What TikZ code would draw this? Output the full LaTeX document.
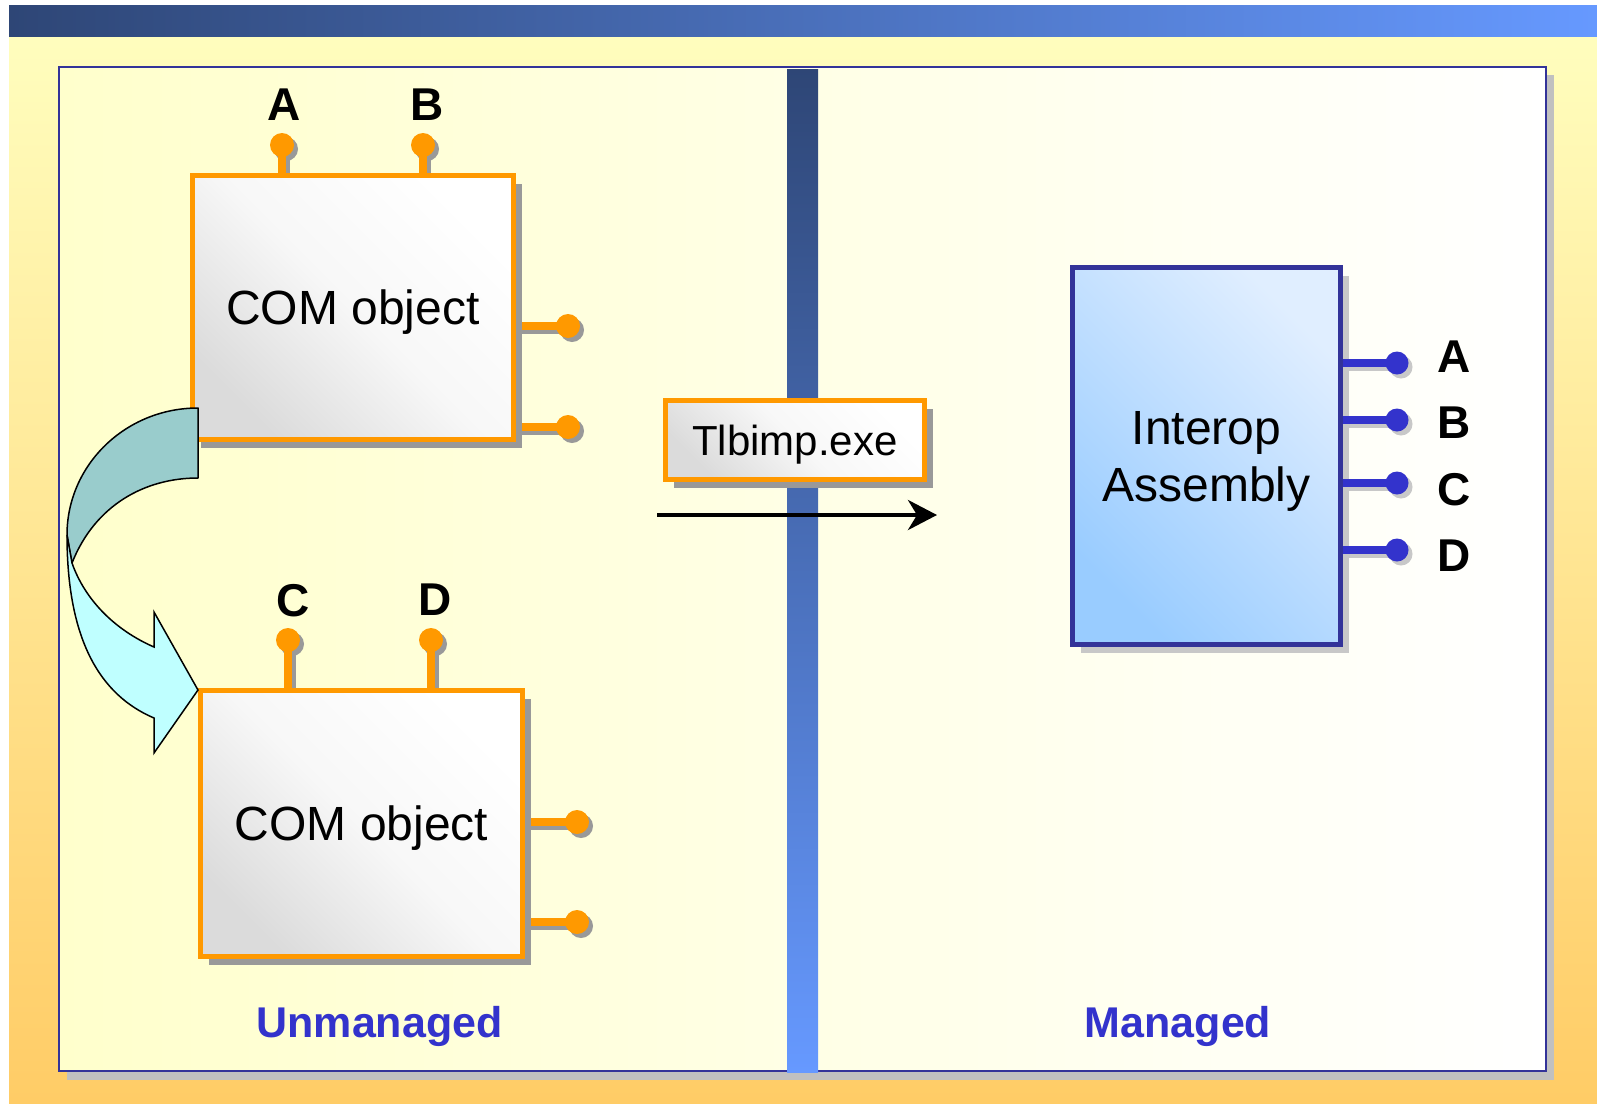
\documentclass[tikz,border=0pt]{standalone}
\usepackage{fontspec}
\setmainfont{Liberation Sans}
\usetikzlibrary{arrows.meta,shadows}
\definecolor{bgtop}{HTML}{FFFFC0}
\definecolor{bgbot}{HTML}{FFCC66}
\definecolor{headL}{HTML}{2E4676}
\definecolor{headR}{HTML}{6699FF}
\definecolor{panelB}{HTML}{333399}
\definecolor{panelL}{HTML}{FFFFCC}
\definecolor{panelsh}{HTML}{C0C0C0}
\definecolor{orangeC}{HTML}{FF9900}
\definecolor{shgray}{HTML}{999999}
\definecolor{lightsh}{HTML}{C8C8C8}
\definecolor{bluepin}{HTML}{3333CC}
\definecolor{boxB}{HTML}{333399}
\definecolor{ibL}{HTML}{99CCFF}
\definecolor{ibR}{HTML}{E0EEFF}
\definecolor{darkband}{HTML}{99CCCC}
\definecolor{lightband}{HTML}{BFFFFF}
\definecolor{labelblue}{HTML}{3333CC}
\pgfdeclarelayer{bg}
\pgfdeclarelayer{pinshadow}
\pgfdeclarelayer{pins}
\pgfsetlayers{bg,pinshadow,pins,main}
\tikzset{
  combox/.style={draw=orangeC, line width=5pt, inner sep=0pt, text depth=0pt,
    top color=white, bottom color=black!14, middle color=black!3, shading angle=-45,
    general shadow={fill=shgray, shadow xshift=8pt, shadow yshift=-8pt},
    font=\fontsize{48}{56}\selectfont},
  ibox/.style={draw=boxB, line width=5pt, inner sep=0pt, text depth=0pt, align=center,
    top color=ibR, bottom color=ibL, shading angle=-45,
    general shadow={fill=lightsh, shadow xshift=8pt, shadow yshift=-8pt},
    font=\fontsize{48}{57}\selectfont},
  pinO/.style={circle, fill=orangeC, minimum size=24pt, inner sep=0pt},
  stemO/.style={draw=orangeC, line width=8pt},
  pinB/.style={circle, fill=bluepin, minimum size=23pt, inner sep=0pt},
  stemB/.style={draw=bluepin, line width=8pt},
  lbl/.style={font=\bfseries\fontsize{46}{54}\selectfont, inner sep=0pt, text depth=0pt},
  side/.style={font=\bfseries\fontsize{43}{52}\selectfont, text=labelblue, anchor=base, inner sep=0pt},
  band/.style={draw=black, line width=1.5pt, line join=round},
  flow/.style={line width=4pt, -{Stealth[length=29pt,width=30pt,inset=9pt]}}
}
\begin{document}
\begin{tikzpicture}[x=1pt,y=-1pt]
\useasboundingbox (0,0) rectangle (1597,1103);
\begin{pgfonlayer}{bg}
  \fill[white] (0,0) rectangle (1597,1103);
  \shade[top color=bgtop, bottom color=bgbot] (9,5) rectangle (1597,1103);
  \shade[left color=headL, right color=headR] (9,5) rectangle (1597,36);
  \fill[panelsh] (67,75) rectangle (1554,1080);
  \shade[left color=panelL, right color=white] (59,67) rectangle (1546,1071);
  \draw[panelB, line width=2.5pt] (59,67) rectangle (1546,1071);
  \shade[top color=headL, bottom color=headR] (787,69) rectangle (818,1072);
\end{pgfonlayer}

% boxes
\node[combox, minimum width=321pt, minimum height=264pt] (box1) at (353,307.5) {COM object};
\node[combox, minimum width=322pt, minimum height=266pt] (box2) at (361.5,823.5) {COM object};
\node[combox, minimum width=259pt, minimum height=79pt, font=\fontsize{42}{50}\selectfont] (tlb) at (795,440) {Tlbimp.exe};
\node[ibox, minimum width=268pt, minimum height=377pt] (interop) at (1206.5,456) {Interop\\Assembly};

% orange pins
\begin{pgfonlayer}{pins}
\foreach \n/\x/\y/\b in {pA1/282/145/box1, pB1/423/145/box1, pC2/288/640/box2, pD2/431/640/box2}{
  \node[pinO] (\n) at (\x,\y) {};
  \draw[stemO] (\n.center) -- (\n.center |- \b.north);
}
\foreach \n/\x/\y/\b in {pE1/568/326/box1, pF1/568/427/box1, pE2/577/822/box2, pF2/577/922/box2}{
  \node[pinO] (\n) at (\x,\y) {};
  \draw[stemO] (\n.center) -- (\n.center -| \b.east);
}
\end{pgfonlayer}

% blue pins
\foreach \n/\y in {pA/363, pB/420, pC/483, pD/550}{
  \node[pinB] (\n) at (1397,\y) {};
  \draw[stemB] (\n.center) -- (\n.center -| interop.east);
}

% pin shadows
\begin{pgfonlayer}{pinshadow}
\begin{scope}[transform canvas={shift={(4pt,-4pt)}}]
\foreach \n/\b in {pA1/box1, pB1/box1, pC2/box2, pD2/box2}{
  \fill[shgray] (\n.center) circle (12);
  \draw[shgray, line width=8pt] (\n.center) -- (\n.center |- \b.north);
}
\foreach \n/\b in {pE1/box1, pF1/box1, pE2/box2, pF2/box2}{
  \fill[shgray] (\n.center) circle (12);
  \draw[shgray, line width=8pt] (\n.center) -- (\n.center -| \b.east);
}
\foreach \n in {pA,pB,pC,pD}{
  \fill[lightsh] (\n.center) circle (11.5);
  \draw[lightsh, line width=8pt] (\n.center) -- (\n.center -| interop.east);
}
\end{scope}
\end{pgfonlayer}

% pin labels
\node[lbl] (lA1) at (284,105) {A};
\node[lbl] (lB1) at (427,105) {B};
\node[lbl] (lC2) at (293,600) {C};
\node[lbl] (lD2) at (435,600) {D};
\node[lbl] (lA) at (1454,357) {A};
\node[lbl] (lB) at (1454,423) {B};
\node[lbl] (lC) at (1454,489) {C};
\node[lbl] (lD) at (1454,556) {D};

% side captions
\node[side] (um) at (379.5,1037) {Unmanaged};
\node[side] (mg) at (1178,1037) {Managed};

% conversion arrow
\coordinate (arrS) at (657,515);
\coordinate (arrE) at (937,515);
\draw[flow] (arrS) -- (arrE);

% curved arrow
\filldraw[band, fill=darkband] (198,408) .. controls (125.6,408) and (67,464.9) .. (67,535)
   -- (72,563) .. controls (95,505) and (145,478) .. (198,478) -- cycle;
\filldraw[band, fill=lightband, line join=miter] (67,535) .. controls (67,640) and (100,695) .. (154,718)
   -- (154,753) -- (198,690) -- (154,612) -- (154,647)
   .. controls (115,630) and (85,600) .. (72,563) -- cycle;
\end{tikzpicture}
\end{document}
